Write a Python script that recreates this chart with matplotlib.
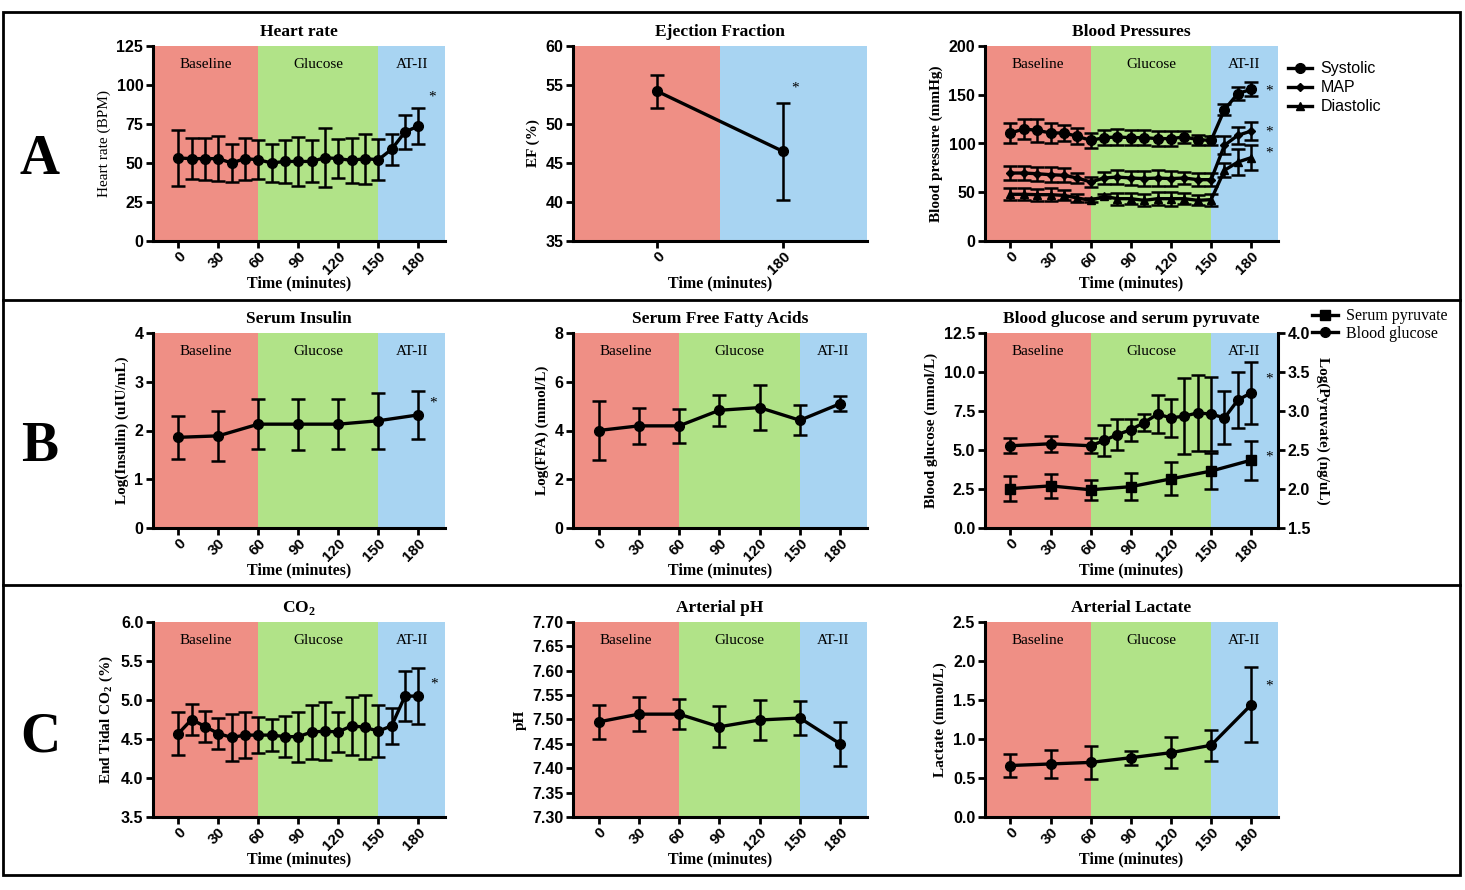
"""
Haemodynamic and metabolic time courses, Baseline -> Glucose -> AT-II
"""

import matplotlib
matplotlib.use('Agg')
import matplotlib.pyplot as plt
import matplotlib.ticker as mticker
from matplotlib.lines import Line2D
from matplotlib.patches import Rectangle

W, H = 1465, 890
SERIF = 'Liberation Serif'
SANS = 'Liberation Sans'

plt.rcParams['font.family'] = SANS
plt.rcParams['mathtext.fontset'] = 'custom'
plt.rcParams['mathtext.rm'] = SERIF
plt.rcParams['mathtext.bf'] = SERIF + ':bold'

PHASES = ['Baseline', 'Glucose', 'AT-II']
PHASE_EDGES = [60, 150]
PHASE_COLORS = ['#EF8F85', '#B1E388', '#A8D4F2']
X_TICKS = [0, 30, 60, 90, 120, 150, 180]
XLIM = (-19, 200)

# sampling times (minutes)
t_10 = [0, 10, 20, 30, 40, 50, 60, 70, 80, 90, 100, 110, 120, 130, 140, 150, 160, 170, 180]
t_30 = [0, 30, 60, 90, 120, 150, 180]
t_glu = [0, 30, 60, 70, 80, 90, 100, 110, 120, 130, 140, 150, 160, 170, 180]

# heart rate (BPM)
hr_mean = [53.2, 52.8, 52.8, 52.8, 50.0, 52.8, 52.1, 50.0, 51.0, 51.0, 51.0, 53.4, 52.8, 51.7,
           52.8, 52.1, 58.8, 69.9, 73.7]
hr_sem = [17.7, 13.0, 13.5, 14.5, 12.0, 13.5, 12.5, 12.0, 14.0, 15.5, 13.5, 19.0, 12.5, 14.5,
          16.0, 13.0, 10.0, 11.0, 11.8]

# ejection fraction (%)
ef_labels = ['0', '180']
ef_mean = [54.2, 46.5]
ef_sem = [2.1, 6.2]

# blood pressures (mmHg)
sys_mean = [110.8, 114.9, 113.5, 110.8, 110.8, 107.4, 103.2, 106.0, 106.7, 106.0, 106.0, 105.0,
            105.0, 106.7, 103.9, 103.2, 134.8, 151.2, 155.6]
sys_sem = [10.5, 10.0, 11.5, 10.0, 8.5, 8.0, 8.0, 8.0, 8.3, 8.0, 8.0, 8.0, 7.5, 6.5, 5.0, 5.0,
           5.5, 7.0, 7.0]
map_mean = [69.7, 69.7, 69.0, 68.0, 67.4, 64.6, 60.5, 64.6, 65.6, 64.6, 64.0, 64.6, 64.0, 64.6,
            62.9, 62.9, 98.2, 108.4, 112.8]
map_sem = [7.0, 7.0, 7.0, 7.5, 7.0, 5.5, 5.0, 6.0, 7.0, 7.0, 7.5, 8.0, 7.5, 6.5, 6.5, 6.5, 9.0,
           9.0, 9.5]
dia_mean = [47.9, 47.9, 47.5, 47.5, 46.8, 44.1, 41.7, 45.8, 43.4, 43.4, 41.7, 43.4, 43.4, 43.4,
            41.7, 42.4, 72.5, 81.0, 85.5]
dia_sem = [6.0, 6.0, 6.0, 6.5, 5.0, 4.5, 2.0, 2.0, 6.0, 5.5, 6.0, 6.5, 7.0, 5.5, 5.0, 6.0, 7.0,
           13.0, 13.0]

# serum insulin, log(uIU/mL)
ins_mean = [1.86, 1.89, 2.13, 2.13, 2.13, 2.20, 2.32]
ins_sem = [0.44, 0.52, 0.51, 0.52, 0.51, 0.57, 0.49]

# serum free fatty acids, log(mmol/L)
ffa_mean = [4.00, 4.19, 4.19, 4.83, 4.94, 4.42, 5.10]
ffa_sem = [1.19, 0.73, 0.71, 0.64, 0.92, 0.62, 0.31]

# blood glucose (mmol/L) and serum pyruvate log(ng/uL)
glu_mean = [5.27, 5.40, 5.27, 5.61, 5.99, 6.30, 6.76, 7.30, 7.06, 7.17, 7.38, 7.30, 7.06, 8.20, 8.67]
glu_sem = [0.48, 0.50, 0.48, 1.00, 1.00, 0.70, 0.55, 1.20, 1.20, 2.45, 2.45, 2.35, 1.70, 1.80, 2.00]
pyr_mean = [2.005, 2.04, 1.99, 2.03, 2.13, 2.23, 2.37]
pyr_sem = [0.165, 0.15, 0.125, 0.175, 0.21, 0.23, 0.25]

# end tidal CO2 (%)
co2_mean = [4.57, 4.75, 4.66, 4.57, 4.52, 4.55, 4.55, 4.55, 4.53, 4.53, 4.59, 4.60, 4.59, 4.67,
            4.65, 4.60, 4.67, 5.05, 5.05]
co2_sem = [0.27, 0.20, 0.20, 0.20, 0.30, 0.29, 0.23, 0.21, 0.26, 0.32, 0.35, 0.37, 0.26, 0.37,
           0.41, 0.33, 0.23, 0.32, 0.36]

# arterial pH
ph_mean = [7.495, 7.511, 7.511, 7.485, 7.499, 7.503, 7.450]
ph_sem = [0.035, 0.035, 0.031, 0.042, 0.042, 0.034, 0.045]

# arterial lactate (mmol/L)
lac_mean = [0.66, 0.68, 0.70, 0.76, 0.825, 0.92, 1.44]
lac_sem = [0.15, 0.18, 0.21, 0.09, 0.20, 0.20, 0.48]

# significance marks (x, y) in data units
hr_stars = [(190, 92)]
ef_stars = [(1.1, 54.6)]
bp_stars = [(193, 154), (193, 112), (193, 90)]
ins_stars = [(191, 2.56)]
glu_stars = [(193, 9.55), (193, 4.55)]
co2_stars = [(192, 5.2)]
lac_stars = [(193, 1.68)]


def px_axes(fig, left, top, right, bottom):
    """Axes placed from pixel edges of the 1465x890 canvas"""
    return fig.add_axes([left / W, 1 - bottom / H, (right - left) / W, (bottom - top) / H])


def style_axes(ax, title, ylabel, ylim, ystep, yfmt, ylabel_bold=True):
    for side in ['top', 'right']:
        ax.spines[side].set_visible(False)
    for side in ['left', 'bottom']:
        ax.spines[side].set_linewidth(2.2)
    ax.tick_params(width=2, length=5, labelsize=11.5, pad=2)
    ax.tick_params(axis='x', pad=1)
    ax.set_ylim(*ylim)
    ax.yaxis.set_major_locator(mticker.MultipleLocator(ystep))
    ax.yaxis.set_major_formatter(mticker.FormatStrFormatter(yfmt))
    for lab in ax.get_yticklabels():
        lab.set_fontweight('bold')
    ax.set_title(title, family=SERIF, weight='bold', fontsize=12.5, pad=7)
    ax.set_ylabel(ylabel, family=SERIF, weight='bold' if ylabel_bold else 'normal',
                  fontsize=11, labelpad=4)
    ax.set_xlabel('Time (minutes)', family=SERIF, weight='bold', fontsize=11.5, labelpad=-1)


def time_axis(ax, ticks, labels):
    ax.set_xticks(ticks)
    ax.set_xticklabels(labels, rotation=45, ha='right', va='top', rotation_mode='anchor',
                       fontweight='bold', fontsize=11)


def shade_phases(ax, xlim, edges=PHASE_EDGES, labels=True):
    bounds = [xlim[0]] + list(edges) + [xlim[1]]
    if len(bounds) == 4:
        names, colors = PHASES, PHASE_COLORS
    else:
        names, colors = [PHASES[0], PHASES[2]], [PHASE_COLORS[0], PHASE_COLORS[2]]
    for i, (name, color) in enumerate(zip(names, colors)):
        ax.axvspan(bounds[i], bounds[i + 1], color=color, lw=0, zorder=0)
        if labels:
            ax.text((bounds[i] + bounds[i + 1]) / 2, 0.905, name, transform=ax.get_xaxis_transform(),
                    ha='center', va='center', family=SERIF, fontsize=11)
    ax.set_xlim(*xlim)


def plot_series(ax, t, mean, sem, marker='o', ms=7):
    ax.errorbar(t, mean, yerr=sem, color='black', lw=2.4, marker=marker, ms=ms, capsize=5,
                capthick=1.8, elinewidth=1.8, zorder=3, clip_on=False)


def add_stars(ax, stars):
    for x, y in stars:
        ax.text(x, y, '*', ha='center', va='center', family=SERIF, fontsize=11)


fig = plt.figure(figsize=(W / 100, H / 100), dpi=100)

rows = [(46, 241), (333, 528), (622, 817)]
cols = [(153, 445), (573, 867), (985, 1278)]

# Heart rate
ax = px_axes(fig, cols[0][0], rows[0][0], cols[0][1], rows[0][1])
shade_phases(ax, XLIM)
plot_series(ax, t_10, hr_mean, hr_sem)
add_stars(ax, hr_stars)
style_axes(ax, 'Heart rate', 'Heart rate (BPM)', (0, 125), 25, '%d', ylabel_bold=False)
time_axis(ax, X_TICKS, [str(t) for t in X_TICKS])

# Ejection fraction
ax = px_axes(fig, cols[1][0], rows[0][0], cols[1][1], rows[0][1])
shade_phases(ax, (-0.67, 1.67), edges=[0.5], labels=False)
plot_series(ax, range(len(ef_mean)), ef_mean, ef_sem)
add_stars(ax, ef_stars)
style_axes(ax, 'Ejection Fraction', 'EF (%)', (35, 60), 5, '%d')
time_axis(ax, list(range(len(ef_labels))), ef_labels)

# Blood pressures
ax = px_axes(fig, cols[2][0], rows[0][0], cols[2][1], rows[0][1])
shade_phases(ax, XLIM)
plot_series(ax, t_10, sys_mean, sys_sem, 'o', 7)
plot_series(ax, t_10, map_mean, map_sem, 'D', 4)
plot_series(ax, t_10, dia_mean, dia_sem, '^', 6)
add_stars(ax, bp_stars)
style_axes(ax, 'Blood Pressures', 'Blood pressure (mmHg)', (0, 200), 50, '%d')
time_axis(ax, X_TICKS, [str(t) for t in X_TICKS])
bp_handles = [Line2D([], [], color='black', lw=2.4, marker=m, ms=s) for m, s in
              [('o', 7), ('D', 4), ('^', 6)]]
fig.legend(bp_handles, ['Systolic', 'MAP', 'Diastolic'], loc='upper left',
           bbox_to_anchor=(1274 / W, 1 - 47 / H), frameon=False, handlelength=1.5,
           handletextpad=0.5, labelspacing=0.25, prop={'family': SANS, 'size': 11.5})

# Serum insulin
ax = px_axes(fig, cols[0][0], rows[1][0], cols[0][1], rows[1][1])
shade_phases(ax, XLIM)
plot_series(ax, t_30, ins_mean, ins_sem)
add_stars(ax, ins_stars)
style_axes(ax, 'Serum Insulin', 'Log(Insulin) (uIU/mL)', (0, 4), 1, '%d')
time_axis(ax, X_TICKS, [str(t) for t in X_TICKS])

# Serum FFA
ax = px_axes(fig, cols[1][0], rows[1][0], cols[1][1], rows[1][1])
shade_phases(ax, XLIM)
plot_series(ax, t_30, ffa_mean, ffa_sem)
style_axes(ax, 'Serum Free Fatty Acids', 'Log(FFA) (mmol/L)', (0, 8), 2, '%d')
time_axis(ax, X_TICKS, [str(t) for t in X_TICKS])

# Blood glucose and pyruvate (twin axes)
ax = px_axes(fig, cols[2][0], rows[1][0], cols[2][1], rows[1][1])
shade_phases(ax, XLIM)
plot_series(ax, t_glu, glu_mean, glu_sem, 'o', 7)
add_stars(ax, glu_stars)
style_axes(ax, 'Blood glucose and serum pyruvate', 'Blood glucose (mmol/L)', (0, 12.5), 2.5, '%.1f')
time_axis(ax, X_TICKS, [str(t) for t in X_TICKS])
ax2 = ax.twinx()
plot_series(ax2, t_30, pyr_mean, pyr_sem, 's', 7)
for side in ['top', 'left', 'bottom']:
    ax2.spines[side].set_visible(False)
ax2.spines['right'].set_linewidth(2.2)
ax2.set_ylim(1.5, 4.0)
ax2.yaxis.set_major_locator(mticker.MultipleLocator(0.5))
ax2.yaxis.set_major_formatter(mticker.FormatStrFormatter('%.1f'))
ax2.tick_params(width=2, length=5, labelsize=11.5, pad=2)
for lab in ax2.get_yticklabels():
    lab.set_fontweight('bold')
ax2.set_ylabel('Log(Pyruvate) (ng/uL)', family=SERIF, weight='bold', fontsize=11,
               rotation=-90, labelpad=14)
ax2.set_xlim(*XLIM)
gp_handles = [Line2D([], [], color='black', lw=2.4, marker='s', ms=7),
              Line2D([], [], color='black', lw=2.4, marker='o', ms=7)]
fig.legend(gp_handles, ['Serum pyruvate', 'Blood glucose'], loc='upper left',
           bbox_to_anchor=(1298 / W, 1 - 294 / H), frameon=False, handlelength=1.6,
           handletextpad=0.5, labelspacing=0.1, prop={'family': SERIF, 'size': 11.5})

# CO2
ax = px_axes(fig, cols[0][0], rows[2][0], cols[0][1], rows[2][1])
shade_phases(ax, XLIM)
plot_series(ax, t_10, co2_mean, co2_sem)
add_stars(ax, co2_stars)
style_axes(ax, r'CO$_\mathbf{2}$', r'End Tidal CO$_\mathbf{2}$ (%)', (3.5, 6.0), 0.5, '%.1f')
time_axis(ax, X_TICKS, [str(t) for t in X_TICKS])

# Arterial pH
ax = px_axes(fig, cols[1][0], rows[2][0], cols[1][1], rows[2][1])
shade_phases(ax, XLIM)
plot_series(ax, t_30, ph_mean, ph_sem)
style_axes(ax, 'Arterial pH', 'pH', (7.30, 7.70), 0.05, '%.2f')
time_axis(ax, X_TICKS, [str(t) for t in X_TICKS])

# Arterial lactate
ax = px_axes(fig, cols[2][0], rows[2][0], cols[2][1], rows[2][1])
shade_phases(ax, XLIM)
plot_series(ax, t_30, lac_mean, lac_sem)
add_stars(ax, lac_stars)
style_axes(ax, 'Arterial Lactate', 'Lactate (mmol/L)', (0, 2.5), 0.5, '%.1f')
time_axis(ax, X_TICKS, [str(t) for t in X_TICKS])

# panel frame, separators and row letters
fig.add_artist(Rectangle((3 / W, 1 - 875 / H), 1457 / W, 863 / H, transform=fig.transFigure,
                         fill=False, lw=2, ec='black'))
for y in [300, 585]:
    fig.add_artist(Line2D([3 / W, 1460 / W], [1 - y / H] * 2, transform=fig.transFigure,
                          lw=2, color='black'))
for letter, y in [('A', 160), ('B', 447), ('C', 738)]:
    fig.text(40 / W, 1 - y / H, letter, family=SERIF, weight='bold', fontsize=40,
             ha='center', va='center')

fig.savefig('out.png', dpi=100)
